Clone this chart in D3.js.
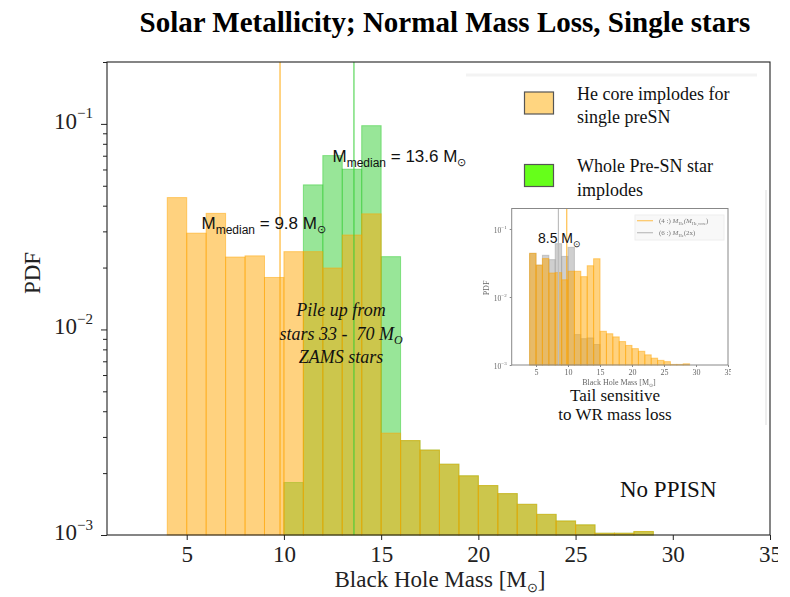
<!DOCTYPE html>
<html>
<head>
<meta charset="utf-8">
<script src="https://cdn.jsdelivr.net/npm/d3@7"></script>
<style>
  body { margin: 0; background: #fff; }
  svg { display: block; }
</style>
</head>
<body>
<svg id="chart" width="790" height="597"></svg>
<script>
// ---- Data: black-hole mass PDFs, 1 Msun bins (lower bin edges) ----
const heCoreBins = [4, 5, 6, 7, 8, 9, 10, 11, 12, 13, 14, 15, 16, 17, 18, 19, 20, 21, 22, 23, 24, 25, 26, 27, 28];
const heCorePdf  = [0.0438, 0.0294, 0.0367, 0.0225, 0.0228, 0.0179, 0.0239, 0.0239, 0.0199, 0.0288, 0.0365,
                    0.00313, 0.00288, 0.00259, 0.00221, 0.00194, 0.00174, 0.00159, 0.00141, 0.00126, 0.00117,
                    0.00112, 0.00102, 0.00102, 0.00104];

const wholeStarBins = [10, 11, 12, 13, 14, 15, 16, 17, 18, 19, 20, 21, 22, 23, 24, 25, 26, 27, 28];
const wholeStarPdf  = [0.0018, 0.0505, 0.0701, 0.0602, 0.098, 0.0226,
                       0.00288, 0.00259, 0.00221, 0.00194, 0.00174, 0.00159, 0.00141, 0.00126, 0.00117,
                       0.00112, 0.00102, 0.00102, 0.00104];

// doubled He-core variant (inset comparison)
const he2xBins = [4, 5, 6, 7, 8, 9, 10, 11, 12, 13, 14];
const he2xPdf  = [0.0438, 0.0294, 0.041, 0.0354, 0.0608, 0.0395, 0.0537, 0.0028, 0.00244, 0.0025, 0.0020];

const medianHeCore = 9.8;
const medianWholeStar = 13.6;
const medianHe2x = 8.5;

const xTicks = [5, 10, 15, 20, 25, 30, 35];
const yMajorTicks = [1e-3, 1e-2, 1e-1];
const yExponents = ["\u22123", "\u22122", "\u22121"];

// ---- Setup ----
const svg = d3.select("#chart");
const ORANGE = "#FFA500", GREEN = "#32CD32", GREY = "#A0A0A0";
const serif = "'Liberation Serif', 'Times New Roman', serif";
const sans = "'Liberation Sans', Arial, sans-serif";

function minorTicks(domain) {
  const out = [];
  for (let d = 1e-3; d < 1; d *= 10)
    for (let k = 2; k <= 9; k++) {
      const v = k * d;
      if (v > domain[0] && v <= domain[1] + 1e-12) out.push(v);
    }
  return out;
}

function drawBars(g, x, y, bins, values, color, alpha) {
  g.selectAll(null).data(bins.map((b, i) => ({ b, v: values[i] })))
    .join("rect")
    .attr("x", d => x(d.b))
    .attr("width", d => x(d.b + 1) - x(d.b))
    .attr("y", d => y(d.v))
    .attr("height", d => y.range()[0] - y(d.v))
    .attr("fill", color).attr("fill-opacity", alpha)
    .attr("stroke", color).attr("stroke-opacity", alpha).attr("stroke-width", 1);
}

// ---- Title ----
svg.append("text")
  .attr("x", 445).attr("y", 32).attr("text-anchor", "middle")
  .style("font-family", serif).style("font-weight", "bold").style("font-size", "29px")
  .text("Solar Metallicity; Normal Mass Loss, Single stars");

// ---- Main panel ----
const L = 107, R = 770, T = 62, B = 535;
const x = d3.scaleLinear().domain([0.9, 35]).range([L, R]);
const y = d3.scaleLog().domain([1e-3, 0.2]).range([B, T]);

const defs = svg.append("defs");
defs.append("clipPath").attr("id", "crop")
  .append("rect").attr("x", 0).attr("y", 0).attr("width", 778).attr("height", 597);

const main = svg.append("g").attr("clip-path", "url(#crop)");
const plot = main.append("g");

drawBars(plot, x, y, wholeStarBins, wholeStarPdf, GREEN, 0.5);
drawBars(plot, x, y, heCoreBins, heCorePdf, ORANGE, 0.5);

// median lines
plot.append("line").attr("x1", x(medianHeCore)).attr("x2", x(medianHeCore))
  .attr("y1", T).attr("y2", B).attr("stroke", ORANGE).attr("stroke-opacity", 0.6).attr("stroke-width", 1.6);
plot.append("line").attr("x1", x(medianWholeStar)).attr("x2", x(medianWholeStar))
  .attr("y1", T).attr("y2", B).attr("stroke", GREEN).attr("stroke-opacity", 0.6).attr("stroke-width", 1.6);

// frame
main.append("rect").attr("x", L).attr("y", T).attr("width", R - L).attr("height", B - T)
  .attr("fill", "none").attr("stroke", "#222").attr("stroke-width", 1.1);

// x axis
const xAxis = main.append("g").attr("transform", `translate(0,${B})`)
  .call(d3.axisBottom(x).tickValues(xTicks).tickSize(5).tickPadding(6).tickFormat(d3.format("d")));
xAxis.select(".domain").remove();
xAxis.selectAll("line").attr("stroke", "#222");
xAxis.selectAll("text").style("font-family", serif).style("font-size", "23px").attr("fill", "#222");

// y axis: majors with power-of-ten labels, minors unlabeled
const yAxis = main.append("g").attr("transform", `translate(${L},0)`)
  .call(d3.axisLeft(y).tickValues(yMajorTicks).tickSize(6).tickPadding(8).tickFormat(() => ""));
yAxis.select(".domain").remove();
yAxis.selectAll("line").attr("stroke", "#222");
yAxis.selectAll(".tick text").each(function (d, i) {
  const t = d3.select(this).text(null)
    .style("font-family", serif).attr("fill", "#222").attr("dy", "0.45em");
  t.append("tspan").style("font-size", "23px").text("10");
  t.append("tspan").style("font-size", "15px").attr("dy", "-0.7em").text(yExponents[i]);
});
const yMinor = main.append("g").attr("transform", `translate(${L},0)`)
  .call(d3.axisLeft(y).tickValues(minorTicks(y.domain())).tickSize(4).tickFormat(() => ""));
yMinor.select(".domain").remove();
yMinor.selectAll("line").attr("stroke", "#222");

// axis titles
main.append("text").attr("transform", "translate(40,273) rotate(-90)").attr("text-anchor", "middle")
  .style("font-family", serif).style("font-size", "23px").attr("fill", "#222").text("PDF");
const xl = main.append("text").attr("x", 440).attr("y", 587).attr("text-anchor", "middle")
  .style("font-family", serif).style("font-size", "23px").attr("fill", "#222");
xl.append("tspan").text("Black Hole Mass [M");
xl.append("tspan").style("font-size", "13px").attr("dy", "5").text("\u2299");
xl.append("tspan").attr("dy", "-5").text("]");

// median annotations
function medianLabel(px, py, value) {
  const t = svg.append("text").attr("x", px).attr("y", py)
    .style("font-family", sans).attr("fill", "#111");
  t.append("tspan").style("font-size", "17px").text("M");
  t.append("tspan").style("font-size", "12px").attr("dy", "5").text("median");
  t.append("tspan").style("font-size", "17px").attr("dy", "-5").text(` = ${value} M`);
  t.append("tspan").style("font-size", "11px").attr("dy", "4").text("\u2299");
}
medianLabel(201.5, 228.5, medianHeCore.toFixed(1));
medianLabel(332.5, 162, medianWholeStar.toFixed(1));

// pile-up note
const pile = svg.append("text").attr("text-anchor", "middle")
  .style("font-family", serif).style("font-style", "italic").style("font-size", "18px").attr("fill", "#111");
pile.append("tspan").attr("x", 341).attr("y", 316).text("Pile up from");
const l2 = pile.append("tspan").attr("x", 341).attr("y", 340);
l2.append("tspan").text("stars 33 -\u00a0 70 M");
l2.append("tspan").style("font-size", "12px").attr("dy", "4").text("O");
pile.append("tspan").attr("x", 341).attr("y", 363).text("ZAMS stars");

svg.append("text").attr("x", 620).attr("y", 497)
  .style("font-family", serif).style("font-size", "23px").attr("fill", "#111").text("No PPISN");

// ---- Legend ----
svg.append("line").attr("x1", 466).attr("x2", 757).attr("y1", 75).attr("y2", 75)
  .attr("stroke", "#f3f3f3").attr("stroke-width", 3);
const legend = svg.append("g");
const legendItems = [
  { fill: "#FFD580", lines: ["He core implodes for", "single preSN"], y: 92 },
  { fill: "#66FF1A", lines: ["Whole Pre-SN star", "implodes"], y: 164.5 }
];
legendItems.forEach(it => {
  legend.append("rect").attr("x", 524.5).attr("y", it.y).attr("width", 29).attr("height", 22)
    .attr("fill", it.fill).attr("stroke", "#555").attr("stroke-width", 1.2);
  it.lines.forEach((s, i) => legend.append("text").attr("x", 577).attr("y", it.y + 7.5 + i * 23.5)
    .style("font-family", serif).style("font-size", "18px").attr("fill", "#111").text(s));
});

// ---- Inset: He-core variants ----
const iL = 511.7, iR = 728, iT = 208.5, iB = 365;
const ix = d3.scaleLinear().domain([1.2, 35]).range([iL, iR]);
const iy = d3.scaleLog().domain([1e-3, 0.2]).range([iB, iT]);
defs.append("clipPath").attr("id", "insetCrop")
  .append("rect").attr("x", 470).attr("y", 200).attr("width", 261).attr("height", 190);
defs.append("filter").attr("id", "soft").append("feGaussianBlur").attr("stdDeviation", 0.35);

const inset = svg.append("g").attr("clip-path", "url(#insetCrop)").attr("filter", "url(#soft)");
drawBars(inset, ix, iy, he2xBins, he2xPdf, GREY, 0.5);
drawBars(inset, ix, iy, heCoreBins, heCorePdf, ORANGE, 0.5);
inset.append("line").attr("x1", ix(medianHe2x)).attr("x2", ix(medianHe2x)).attr("y1", iT).attr("y2", iB)
  .attr("stroke", "#bdbdbd").attr("stroke-width", 1.2);
inset.append("line").attr("x1", ix(medianHeCore)).attr("x2", ix(medianHeCore)).attr("y1", iT).attr("y2", iB)
  .attr("stroke", ORANGE).attr("stroke-opacity", 0.7).attr("stroke-width", 1.2);
inset.append("rect").attr("x", iL).attr("y", iT).attr("width", iR - iL).attr("height", iB - iT)
  .attr("fill", "none").attr("stroke", "#888").attr("stroke-width", 1);

const ixAxis = inset.append("g").attr("transform", `translate(0,${iB})`)
  .call(d3.axisBottom(ix).tickValues(xTicks).tickSize(2).tickPadding(2).tickFormat(d3.format("d")));
ixAxis.select(".domain").remove();
ixAxis.selectAll("line").attr("stroke", "#888");
ixAxis.selectAll("text").style("font-family", serif).style("font-size", "8px").attr("fill", "#666");

const iyAxis = inset.append("g").attr("transform", `translate(${iL},0)`)
  .call(d3.axisLeft(iy).tickValues(yMajorTicks).tickSize(2).tickPadding(3).tickFormat(() => ""));
iyAxis.select(".domain").remove();
iyAxis.selectAll("line").attr("stroke", "#888");
iyAxis.selectAll(".tick text").each(function (d, i) {
  const t = d3.select(this).text(null).style("font-family", serif).attr("fill", "#666").attr("dy", "0.35em");
  t.append("tspan").style("font-size", "7.5px").text("10");
  t.append("tspan").style("font-size", "5px").attr("dy", "-0.8em").text(yExponents[i]);
});

inset.append("text").attr("transform", "translate(489,288) rotate(-90)").attr("text-anchor", "middle")
  .style("font-family", serif).style("font-size", "8px").attr("fill", "#666").text("PDF");
const ixl = inset.append("text").attr("x", 619).attr("y", 384.5).attr("text-anchor", "middle")
  .style("font-family", serif).style("font-size", "8px").attr("fill", "#666");
ixl.append("tspan").text("Black Hole Mass [M");
ixl.append("tspan").style("font-size", "5px").attr("dy", "2").text("\u2299");
ixl.append("tspan").attr("dy", "-2").text("]");

// inset legend
inset.append("rect").attr("x", 635).attr("y", 215).attr("width", 89).attr("height", 25)
  .attr("fill", "#f8f8f8").attr("stroke", "#eee");
const insetLegend = [
  { color: ORANGE, op: 0.6, label: [["(4 :) ", 0], ["M", 0], ["He", 2], ["(M", -2], ["He,core", 2], [")", -2]] },
  { color: "#bdbdbd", op: 1, label: [["(6 :) ", 0], ["M", 0], ["He", 2], ["(2x)", -2]] }
];
insetLegend.forEach((it, i) => {
  const yy = 220.7 + i * 12;
  inset.append("line").attr("x1", 637).attr("x2", 653).attr("y1", yy).attr("y2", yy)
    .attr("stroke", it.color).attr("stroke-opacity", it.op).attr("stroke-width", 1.2);
  const t = inset.append("text").attr("x", 659).attr("y", yy + 2.5)
    .style("font-family", serif).style("font-size", "7px").attr("fill", "#777");
  it.label.forEach(([s, dy]) => {
    const sub = dy > 0;
    t.append("tspan").attr("dy", dy).style("font-size", sub ? "4.5px" : "7px")
      .style("font-style", s.startsWith("M") || s.startsWith("(M") ? "italic" : null).text(s);
  });
});

// inset median value
const im = svg.append("text").attr("x", 538).attr("y", 242.5).style("font-family", sans).attr("fill", "#111");
im.append("tspan").style("font-size", "14px").text(`${medianHe2x} M`);
im.append("tspan").style("font-size", "9px").attr("dy", "4").text("\u2299");

// faint outline at right of the inset area
svg.append("line").attr("x1", 766).attr("x2", 766).attr("y1", 190).attr("y2", 425)
  .attr("stroke", "#ddd").attr("stroke-width", 1);

// inset caption
const cap = svg.append("text").attr("text-anchor", "middle")
  .style("font-family", serif).style("font-size", "17px").attr("fill", "#111");
cap.append("tspan").attr("x", 615).attr("y", 401).text("Tail sensitive");
cap.append("tspan").attr("x", 615).attr("y", 420).text("to WR mass loss");
</script>
</body>
</html>
